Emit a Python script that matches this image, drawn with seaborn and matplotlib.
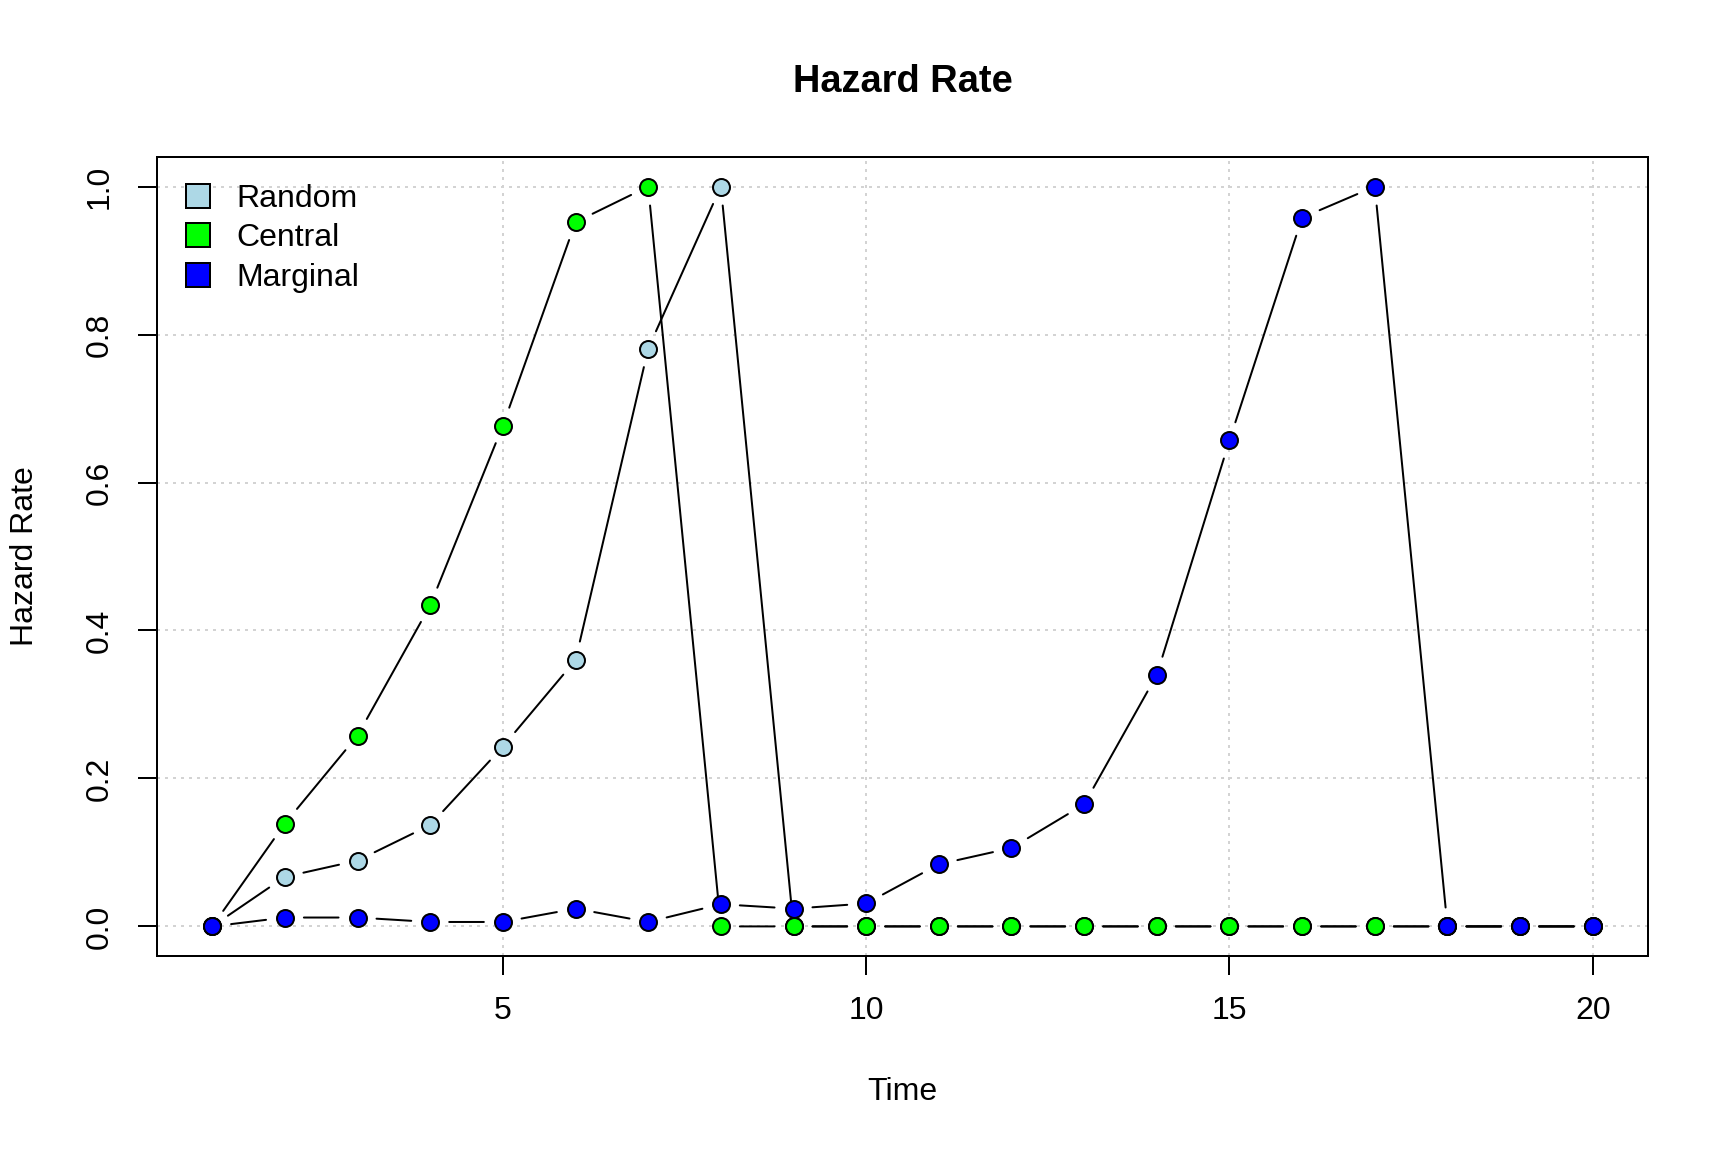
import numpy as np
import pandas as pd
import matplotlib
matplotlib.use("Agg")
import matplotlib.pyplot as plt
from matplotlib.lines import Line2D
import seaborn as sns

# ---- data ----
time = list(range(1, 21))
random_rate = [0.0, 0.067, 0.089, 0.137, 0.243, 0.360, 0.781, 1.0, 0.0, 0.0,
               0.0, 0.0, 0.0, 0.0, 0.0, 0.0, 0.0, 0.0, 0.0, 0.0]
central_rate = [0.0, 0.139, 0.258, 0.434, 0.677, 0.952, 1.0, 0.0, 0.0, 0.0,
                0.0, 0.0, 0.0, 0.0, 0.0, 0.0, 0.0, 0.0, 0.0, 0.0]
marginal_rate = [0.0, 0.012, 0.012, 0.006, 0.006, 0.024, 0.006, 0.030, 0.024, 0.031,
                 0.084, 0.106, 0.165, 0.340, 0.657, 0.958, 1.0, 0.0, 0.0, 0.0]
series_names = ["Random", "Central", "Marginal"]
series_colors = ["lightblue", "#00FF00", "#0000FF"]
x_ticks = [5, 10, 15, 20]
y_ticks = [0.0, 0.2, 0.4, 0.6, 0.8, 1.0]
y_tick_labels = ["0.0", "0.2", "0.4", "0.6", "0.8", "1.0"]

df = pd.DataFrame({
    "Time": time * 3,
    "Hazard": random_rate + central_rate + marginal_rate,
    "Series": sum([[n] * len(time) for n in series_names], []),
})

sns.set_style("white")
plt.rcParams["font.family"] = ["Liberation Sans", "DejaVu Sans"]
plt.rcParams["text.color"] = "black"
plt.rcParams["axes.labelcolor"] = "black"

fig = plt.figure(figsize=(12, 8), dpi=144)
ax = fig.add_axes([157 / 1728, 1 - 956 / 1152, (1648 - 157) / 1728, (956 - 157) / 1152])

for i, (name, col) in enumerate(zip(series_names, series_colors)):
    sub = df[df["Series"] == name]
    xs = sub["Time"].to_numpy()
    ys = sub["Hazard"].to_numpy()
    z = 3 + 2 * i
    for k in range(len(xs) - 1):
        ax.annotate("", xy=(xs[k + 1], ys[k + 1]), xytext=(xs[k], ys[k]),
                    xycoords="data", textcoords="data",
                    arrowprops=dict(arrowstyle="-", color="black", lw=1.0,
                                    shrinkA=9.5, shrinkB=9.5),
                    zorder=z)
    sns.scatterplot(data=sub, x="Time", y="Hazard", color=col, s=72,
                    edgecolor="black", linewidth=1.0, ax=ax, zorder=z + 1,
                    legend=False)

ax.set_xlim(0.24, 20.76)
ax.set_ylim(-0.04, 1.04)
ax.set_xticks(x_ticks)
ax.set_xticklabels([str(t) for t in x_ticks])
ax.set_yticks(y_ticks)
ax.set_yticklabels(y_tick_labels, rotation=90, va="center")

ax.grid(True, color="lightgray", linestyle=(0, (1.5, 2.5)), linewidth=1.0)
ax.set_axisbelow(True)
for sp in ax.spines.values():
    sp.set_color("black")
    sp.set_linewidth(1.0)
    sp.set_visible(True)

ax.tick_params(axis="both", which="major", direction="out", length=9.5,
               width=1.0, color="black", labelsize=16, labelcolor="black",
               bottom=True, left=True)
ax.tick_params(axis="x", pad=10.5)
ax.tick_params(axis="y", pad=11.5)

ax.set_xlabel("Time", fontsize=16, color="black")
ax.set_ylabel("Hazard Rate", fontsize=16, color="black")
ax.xaxis.set_label_coords(0.5, -0.152)
ax.yaxis.set_label_coords(-0.0785, 0.5)
ax.set_title("Hazard Rate", fontsize=19, fontweight="bold", pad=32.5, color="black")

handles = [Line2D([0], [0], marker="s", linestyle="none", markersize=12,
                  markerfacecolor=c, markeredgecolor="black", markeredgewidth=1.0)
           for c in series_colors]
ax.legend(handles, series_names, loc="upper left", bbox_to_anchor=(0.0154, 0.966),
          frameon=False, fontsize=16, handlelength=1.125, handletextpad=0.65,
          labelspacing=0.29, borderpad=0, borderaxespad=0, labelcolor="black")

fig.savefig("out.png", dpi=144, facecolor="white")
